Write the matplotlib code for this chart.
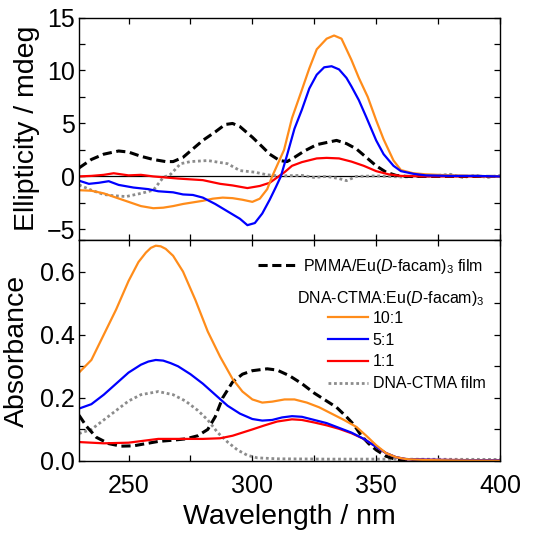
import matplotlib
matplotlib.use("Agg")
import matplotlib.pyplot as plt
from matplotlib.ticker import MultipleLocator

plt.rcParams['font.family'] = ['Liberation Sans', 'DejaVu Sans']
plt.rcParams['mathtext.fontset'] = 'custom'
plt.rcParams['mathtext.rm'] = 'Liberation Sans'
plt.rcParams['mathtext.it'] = 'Liberation Sans:italic'

# ---------------- CD (top panel) ----------------
cd_orange_wl = [230, 235, 240, 245, 250, 255, 260, 264, 268, 272, 276, 280, 284, 288, 292, 296, 300, 303, 306, 308,
                312.8, 316, 319.6, 323, 326, 330, 333, 336, 340, 343, 346.6, 350, 353, 357, 360, 365, 370, 380, 390, 400]
cd_orange = [-1.3, -1.35, -1.6, -2.0, -2.4, -2.8, -3.0, -2.95, -2.8, -2.6, -2.45, -2.3, -2.1, -2.0, -2.05, -2.2, -2.4, -2.1, -1.2, 0.0,
             2.5, 5.5, 7.9, 10.2, 12.0, 13.0, 13.3, 13.0, 11.0, 9.3, 7.5, 5.3, 3.5, 1.5, 0.6, 0.3, 0.2, 0.1, 0.05, 0.0]

cd_blue_wl = [230, 234, 238, 242, 246, 252, 258, 262, 268, 272, 276, 280, 285, 290, 295, 298, 301, 304, 307, 309.5,
              311.5, 314, 317, 320, 323, 326, 329, 332, 335, 338, 340, 343, 346, 350, 353, 357, 360, 365, 370, 380, 390, 400]
cd_blue = [-0.4, -0.7, -0.6, -0.45, -0.8, -1.05, -1.2, -1.4, -1.5, -1.7, -1.75, -2.0, -2.6, -3.3, -4.0, -4.6, -4.4, -3.5, -2.2, -1.0,
           0.0, 2.0, 4.5, 6.3, 8.3, 9.6, 10.3, 10.4, 10.1, 9.3, 8.5, 7.2, 5.6, 3.4, 2.1, 1.0, 0.5, 0.25, 0.1, 0.05, 0.05, 0.0]

cd_red_wl = [230, 235, 240, 244, 250, 255, 260, 270, 280, 287, 292, 298, 303, 307, 310, 313, 316, 320, 326, 330,
             335, 340, 345, 350, 355, 360, 370, 380, 390, 400]
cd_red = [0.0, 0.05, 0.15, 0.3, 0.1, 0.15, 0.0, -0.2, -0.35, -0.7, -0.85, -1.1, -0.9, -0.6, -0.1, 0.4, 1.0, 1.35, 1.7, 1.75,
          1.7, 1.4, 1.0, 0.5, 0.2, 0.05, 0.0, 0.0, 0.0, 0.0]

cd_pmma_wl = [230, 235, 240, 246, 250, 255, 260, 265, 268, 272, 276, 280, 285, 289, 292, 295, 300, 304, 307, 311,
              314, 317, 321, 326, 330, 334, 338, 342, 346, 350, 354, 358, 362, 370, 380, 390, 400]
cd_pmma = [0.8, 1.6, 2.1, 2.4, 2.3, 1.9, 1.6, 1.4, 1.4, 1.8, 2.6, 3.4, 4.2, 4.9, 5.0, 4.7, 3.7, 2.8, 2.1, 1.5,
           1.4, 1.8, 2.4, 3.0, 3.2, 3.4, 3.1, 2.6, 1.8, 1.0, 0.4, 0.1, 0.0, 0.0, 0.0, 0.0, 0.0]

cd_dna_wl = [230, 235, 240, 243, 249, 255, 260, 264, 267, 271, 275, 282, 290, 295, 301, 306, 311, 320, 325, 330,
             335, 338, 342, 350, 360, 370, 380, 385, 390, 395, 400]
cd_dna = [-0.8, -1.3, -1.7, -1.8, -1.9, -1.6, -1.3, -0.1, 0.2, 1.2, 1.4, 1.5, 1.2, 0.55, 0.4, 0.15, 0.05, 0.1, -0.1, 0.0,
          -0.2, -0.4, 0.0, 0.05, -0.05, 0.0, 0.2, -0.1, 0.1, -0.1, 0.1]

# ---------------- Absorbance (bottom panel) ----------------
ab_orange_wl = [230, 235, 240, 245, 250, 254, 257, 259, 261, 263, 265, 268, 272, 277, 282, 287, 292, 296, 300, 304, 308, 313,
                317, 322, 327, 332, 337, 342, 346, 350, 354, 358, 362, 370, 380, 400]
ab_orange = [0.28, 0.32, 0.40, 0.48, 0.57, 0.63, 0.66, 0.675, 0.682, 0.68, 0.672, 0.65, 0.60, 0.51, 0.41, 0.33, 0.26, 0.22, 0.195, 0.185, 0.188, 0.195,
             0.195, 0.185, 0.17, 0.15, 0.13, 0.108, 0.08, 0.05, 0.025, 0.012, 0.006, 0.003, 0.002, 0.001]

ab_blue_wl = [230, 235, 240, 245, 250, 255, 258, 261, 264, 267, 270, 275, 280, 285, 290, 295, 300, 304, 308, 312, 316, 320,
              325, 330, 335, 340, 345, 350, 354, 358, 362, 370, 380, 400]
ab_blue = [0.166, 0.18, 0.21, 0.245, 0.28, 0.305, 0.315, 0.32, 0.318, 0.31, 0.30, 0.275, 0.245, 0.21, 0.175, 0.15, 0.133, 0.128, 0.13, 0.138, 0.142, 0.14,
           0.13, 0.12, 0.105, 0.09, 0.07, 0.045, 0.025, 0.012, 0.006, 0.004, 0.003, 0.002]

ab_red_wl = [230, 240, 250, 255, 262, 270, 280, 287, 292, 296, 300, 305, 310, 316, 320, 325, 330, 335, 340, 345,
             350, 354, 358, 362, 370, 400]
ab_red = [0.06, 0.056, 0.058, 0.063, 0.07, 0.07, 0.07, 0.072, 0.08, 0.09, 0.1, 0.113, 0.125, 0.132, 0.13, 0.122, 0.113, 0.102, 0.088, 0.07,
          0.045, 0.025, 0.012, 0.006, 0.004, 0.002]

ab_pmma_wl = [230, 233, 237, 242, 247, 252, 257, 262, 268, 273, 278, 282, 285, 288, 292, 296, 300, 306, 310, 315,
              320, 325, 330, 334, 338, 341, 344, 347, 350, 354, 358, 365, 400]
ab_pmma = [0.145, 0.11, 0.075, 0.055, 0.047, 0.048, 0.055, 0.062, 0.066, 0.07, 0.08, 0.10, 0.14, 0.20, 0.25, 0.275, 0.286, 0.292, 0.288, 0.27,
           0.245, 0.215, 0.19, 0.17, 0.14, 0.115, 0.08, 0.055, 0.035, 0.015, 0.005, 0.0, 0.0]

ab_dna_wl = [230, 235, 240, 245, 250, 255, 262, 268, 273, 278, 282, 286, 290, 294, 298, 302, 310, 330, 350, 400]
ab_dna = [0.087, 0.10, 0.13, 0.16, 0.19, 0.21, 0.22, 0.21, 0.19, 0.16, 0.13, 0.09, 0.06, 0.035, 0.018, 0.01, 0.007, 0.006, 0.006, 0.005]

xticks = [250, 300, 350, 400]
labels = {
    'pmma': r'PMMA/Eu($\it{D}$-facam)$_3$ film',
    'title': r'DNA-CTMA:Eu($\it{D}$-facam)$_3$',
    'orange': '10:1', 'blue': '5:1', 'red': '1:1', 'dna': 'DNA-CTMA film',
}

C_OR = '#ff8c1a'
C_BL = '#0000ff'
C_RD = '#ff0000'
C_GY = '#8c8c8c'

fig = plt.figure(figsize=(5.51, 5.35), dpi=100)
L, R = 79 / 551, 500 / 551
ax1 = fig.add_axes([L, 1 - 240 / 535, R - L, (240 - 17.5) / 535])
ax2 = fig.add_axes([L, 1 - 461 / 535, R - L, (461 - 240) / 535])

lw = 1.6
ax1.axhline(0, color='black', lw=0.9, zorder=1)
ax1.plot(cd_dna_wl, cd_dna, color=C_GY, lw=2.0, ls=(0, (1, 1)))
ax1.plot(cd_pmma_wl, cd_pmma, color='black', lw=2.2, ls=(0, (3, 1.5)))
ax1.plot(cd_red_wl, cd_red, color=C_RD, lw=lw)
ax1.plot(cd_orange_wl, cd_orange, color=C_OR, lw=lw)
ax1.plot(cd_blue_wl, cd_blue, color=C_BL, lw=lw)

ax2.plot(ab_dna_wl, ab_dna, color=C_GY, lw=2.0, ls=(0, (1, 1)), label=labels['dna'])
ax2.plot(ab_pmma_wl, ab_pmma, color='black', lw=2.2, ls=(0, (3, 1.5)), label=labels['pmma'])
ax2.plot(ab_red_wl, ab_red, color=C_RD, lw=lw, label=labels['red'])
ax2.plot(ab_blue_wl, ab_blue, color=C_BL, lw=lw, label=labels['blue'])
ax2.plot(ab_orange_wl, ab_orange, color=C_OR, lw=lw, label=labels['orange'])

for ax in (ax1, ax2):
    ax.set_xlim(230, 400)
    ax.xaxis.set_major_locator(MultipleLocator(50))
    ax.xaxis.set_minor_locator(MultipleLocator(25))
    ax.tick_params(which='both', direction='in', top=True, right=True, labelsize=18, width=0.9)
    ax.tick_params(which='major', length=4.5)
    ax.tick_params(which='minor', length=4.5)
    for s in ax.spines.values():
        s.set_linewidth(1.0)

LABEL_FS = 20.5
ax1.set_ylim(-6, 15)
ax1.yaxis.set_major_locator(MultipleLocator(5))
ax1.yaxis.set_minor_locator(MultipleLocator(2.5))
ax1.tick_params(axis='x', labelbottom=False)
ax1.tick_params(axis='y', pad=3)
ax1.set_ylabel('Ellipticity / mdeg', fontsize=LABEL_FS)
ax1.yaxis.set_label_coords(-0.093, 0.5)

ax2.set_ylim(0, 0.7)
ax2.yaxis.set_major_locator(MultipleLocator(0.2))
ax2.yaxis.set_minor_locator(MultipleLocator(0.1))
ax2.set_yticks([0.0, 0.2, 0.4, 0.6])
ax2.set_yticklabels(['0.0', '0.2', '0.4', '0.6'])
ax2.set_xticks(xticks)
ax2.tick_params(axis='y', pad=3)
ax2.tick_params(axis='x', pad=9.5)
ax2.set_ylabel('Absorbance', fontsize=LABEL_FS)
ax2.yaxis.set_label_coords(-0.116, 0.5)
ax2.set_xlabel('Wavelength / nm', fontsize=LABEL_FS, labelpad=4)

h, l = ax2.get_legend_handles_labels()
hd = dict(zip(l, h))
LEG_FS = 11.5
leg1 = ax2.legend([hd[labels['pmma']]], [labels['pmma']], loc='center left',
                  bbox_to_anchor=((258 - 79) / 421, (461 - 266) / 221), frameon=False,
                  fontsize=LEG_FS, handlelength=2.45, handletextpad=0.35, borderpad=0, borderaxespad=0)
ax2.add_artist(leg1)
ax2.text((297 - 79) / 421, (461 - 298) / 221, labels['title'], transform=ax2.transAxes,
         fontsize=LEG_FS, va='center', ha='left')
keys = ['orange', 'blue', 'red', 'dna']
ax2.legend([hd[labels[k]] for k in keys], [labels[k] for k in keys], loc='upper left',
           bbox_to_anchor=((328 - 79) / 421, (461 - 311) / 221), frameon=False,
           fontsize=LEG_FS, handlelength=2.5, handletextpad=0.3, borderpad=0, borderaxespad=0,
           labelspacing=0.42)

fig.savefig('out.png', dpi=100)
